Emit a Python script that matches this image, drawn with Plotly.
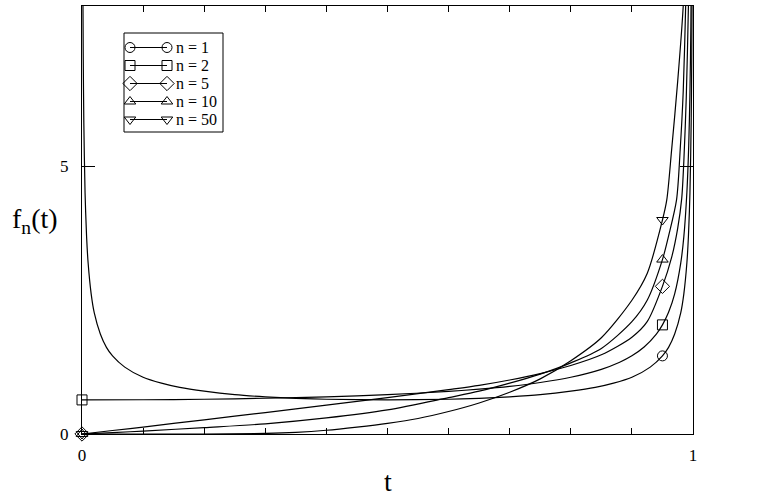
import plotly.graph_objects as go

# ---------------- data ----------------
series_names = ["n = 1", "n = 2", "n = 5", "n = 10", "n = 50"]

t_n1 = [0.0015, 0.002, 0.003, 0.005, 0.0075, 0.01, 0.015, 0.02, 0.03, 0.04, 0.05, 0.07,
        0.1, 0.13, 0.16, 0.2, 0.25, 0.3, 0.35, 0.4, 0.5, 0.6, 0.65, 0.7, 0.75, 0.8,
        0.84, 0.87, 0.9, 0.93, 0.95, 0.96, 0.97, 0.98, 0.985, 0.99, 0.9925, 0.995,
        0.997, 0.998, 0.9985]
f_n1 = [8.22, 7.12, 5.82, 4.51, 3.69, 3.20, 2.62, 2.27, 1.87, 1.62, 1.46, 1.25,
        1.06, 0.95, 0.87, 0.80, 0.735, 0.695, 0.667, 0.65, 0.637, 0.65, 0.667, 0.695, 0.735, 0.80,
        0.87, 0.95, 1.06, 1.25, 1.46, 1.62, 1.87, 2.27, 2.62, 3.20, 3.69, 4.51,
        5.82, 7.12, 8.22]

t_n2 = [0.0, 0.1, 0.2, 0.3, 0.4, 0.5, 0.6, 0.65, 0.7, 0.75, 0.8, 0.85, 0.88, 0.9,
        0.92, 0.94, 0.95, 0.96, 0.97, 0.98, 0.985, 0.99, 0.993, 0.995, 0.9965, 0.9975]
f_n2 = [0.637, 0.640, 0.650, 0.668, 0.695, 0.735, 0.796, 0.838, 0.891, 0.963, 1.061, 1.209,
        1.341, 1.461, 1.625, 1.867, 2.04, 2.275, 2.62, 3.20, 3.69, 4.52, 5.39, 6.38, 7.62, 9.01]

t_n5 = [0.0, 0.05, 0.1, 0.2, 0.3, 0.4, 0.5, 0.6, 0.65, 0.7, 0.75, 0.8, 0.85, 0.9,
        0.925, 0.95, 0.965, 0.975, 0.9815, 0.985, 0.989, 0.9925, 0.994]
f_n5 = [0.0, 0.065, 0.13, 0.265, 0.40, 0.54, 0.68, 0.83, 0.91, 1.01, 1.13, 1.28, 1.48, 1.81,
        2.10, 2.76, 3.30, 3.85, 4.40, 5.10, 6.30, 8.0, 9.0]

t_n10 = [0.0, 0.05, 0.1, 0.2, 0.3, 0.4, 0.5, 0.6, 0.65, 0.7, 0.75, 0.8, 0.85, 0.9,
         0.925, 0.95, 0.96, 0.973, 0.979, 0.984, 0.988, 0.99]
f_n10 = [0.0, 0.025, 0.055, 0.12, 0.19, 0.30, 0.45, 0.68, 0.80, 0.95, 1.12, 1.33, 1.60, 2.10,
         2.50, 3.26, 3.70, 4.37, 5.31, 6.40, 8.0, 9.0]

t_n50 = [0.0, 0.2, 0.3, 0.35, 0.4, 0.45, 0.5, 0.55, 0.6, 0.65, 0.7, 0.75, 0.8, 0.85, 0.9,
         0.925, 0.95, 0.957, 0.965, 0.975, 0.984, 0.987]
f_n50 = [0.0, 0.0, 0.01, 0.03, 0.07, 0.13, 0.20, 0.29, 0.42, 0.58, 0.78, 1.03, 1.37, 1.80, 2.50,
         3.00, 4.00, 4.37, 5.31, 6.60, 8.0, 9.0]

# marker positions (symbols drawn at t = 0 and t = 0.95)
mk_t = [[0.95], [0.0, 0.95], [0.0, 0.95], [0.0, 0.95], [0.0, 0.95]]
mk_f = [[1.46], [0.637, 2.04], [0.0, 2.76], [0.0, 3.26], [0.0, 4.00]]
symbols = ["circle-open", "square-open", "diamond-open", "triangle-up-open", "triangle-down-open"]

x_tick_vals = [0, 1]
x_tick_text = ["0", "1"]
y_tick_vals = [0, 5]
y_tick_text = ["0", "5"]

curves_t = [t_n1, t_n2, t_n5, t_n10, t_n50]
curves_f = [f_n1, f_n2, f_n5, f_n10, f_n50]

FONT = "Liberation Serif"
marker_sizes = [10, 10, 11, 10, 10]

fig = go.Figure()
for t, f in zip(curves_t, curves_f):
    fig.add_trace(go.Scatter(x=t, y=f, mode="lines",
                             line=dict(color="black", width=1.2, shape="spline", smoothing=0.8),
                             showlegend=False, hoverinfo="skip"))
for t, f, s, ms in zip(mk_t, mk_f, symbols, marker_sizes):
    fig.add_trace(go.Scatter(x=t, y=f, mode="markers", cliponaxis=False,
                             marker=dict(symbol=s, size=ms, color="black",
                                         line=dict(color="black", width=1)),
                             showlegend=False, hoverinfo="skip"))

# ---- custom legend (two symbols per sample line), drawn on an overlay pixel axis ----
leg_rows = [47.5, 65.5, 83.5, 101.5, 119.5]
for name, s, ms, yy in zip(series_names, symbols, marker_sizes, leg_rows):
    fig.add_trace(go.Scatter(x=[130, 167], y=[yy, yy], xaxis="x2", yaxis="y2",
                             mode="lines+markers", cliponaxis=False,
                             line=dict(color="black", width=1),
                             marker=dict(symbol=s, size=ms, color="black",
                                         line=dict(color="black", width=1)),
                             showlegend=False, hoverinfo="skip"))
    fig.add_annotation(x=174, y=yy, xref="x2", yref="y2", text=name, showarrow=False,
                       xanchor="left", yanchor="middle",
                       font=dict(family=FONT, size=16, color="black"))
fig.add_shape(type="rect", xref="x2", yref="y2", x0=124, x1=223, y0=33, y1=132,
              line=dict(color="black", width=1), fillcolor="rgba(0,0,0,0)")

axis_common = dict(showline=True, linecolor="black", linewidth=1, mirror="ticks",
                   ticks="inside", tickcolor="black", tickwidth=1, showgrid=False,
                   zeroline=False, tickfont=dict(family=FONT, size=17, color="black"))

fig.update_layout(
    width=771, height=500,
    margin=dict(l=82, r=78, t=6, b=66),
    paper_bgcolor="white", plot_bgcolor="white",
    font=dict(family=FONT, color="black"),
    showlegend=False,
    xaxis=dict(range=[0, 1], tickvals=x_tick_vals, ticktext=x_tick_text, ticklen=13,
               ticklabelstandoff=6,
               minor=dict(dtick=0.1, tick0=0, ticks="inside", ticklen=6,
                          tickcolor="black", tickwidth=1, showgrid=False),
               **axis_common),
    yaxis=dict(range=[0, 8], tickvals=y_tick_vals, ticktext=y_tick_text, ticklen=13,
               ticklabelstandoff=9, **axis_common),
    xaxis2=dict(overlaying="x", range=[82, 693], visible=False, anchor="y2"),
    yaxis2=dict(overlaying="y", range=[434, 6], visible=False, anchor="x2"),
)

fig.add_annotation(x=0.5, y=-0.11, xref="paper", yref="paper", text="t", showarrow=False,
                   xanchor="center", yanchor="middle",
                   font=dict(family=FONT, size=28, color="black"))
fig.add_annotation(x=-0.077, y=0.5, xref="paper", yref="paper",
                   text="f<sub>n</sub>(t)", showarrow=False,
                   xanchor="center", yanchor="middle",
                   font=dict(family=FONT, size=28, color="black"))

fig.write_html("out.html", config={"displayModeBar": False},
               post_script="document.body.style.margin='0';document.body.style.padding='0';")
